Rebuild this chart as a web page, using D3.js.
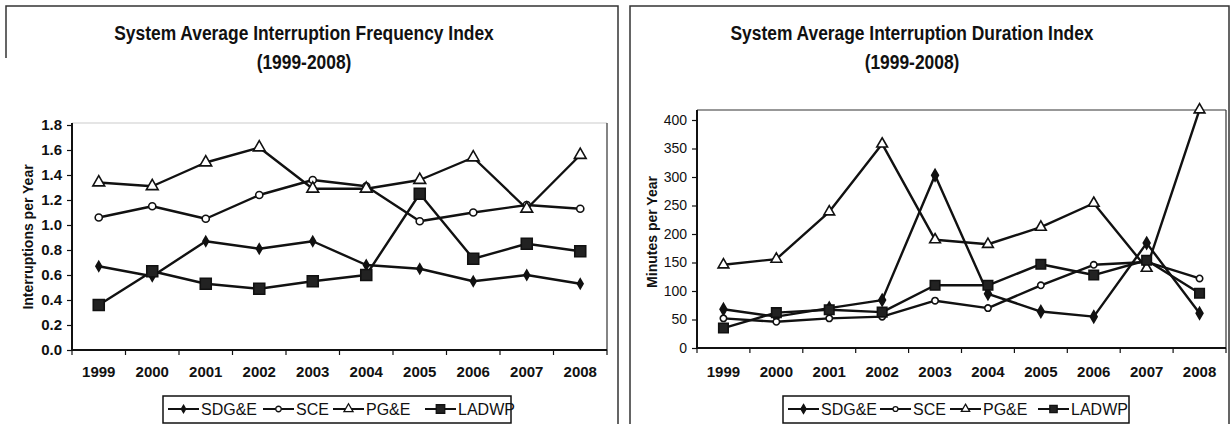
<!DOCTYPE html>
<html>
<head>
<meta charset="utf-8">
<script src="https://cdn.jsdelivr.net/npm/d3@7/dist/d3.min.js"></script>
<style>
  body { margin: 0; background: #fff; }
  svg text { font-family: "Liberation Sans", Arial, sans-serif; fill: #111; }
</style>
</head>
<body>
<svg id="chart" width="1232" height="424"></svg>
<script>
var years = ["1999", "2000", "2001", "2002", "2003", "2004", "2005", "2006", "2007", "2008"];
var seriesNames = ["SDG&E", "SCE", "PG&E", "LADWP"];

// SAIFI, interruptions per year
var saifiSDGE  = [0.67, 0.59, 0.87, 0.81, 0.87, 0.68, 0.65, 0.55, 0.60, 0.53];
var saifiSCE   = [1.06, 1.15, 1.05, 1.24, 1.36, 1.31, 1.03, 1.10, 1.16, 1.13];
var saifiPGE   = [1.34, 1.31, 1.50, 1.62, 1.29, 1.29, 1.36, 1.54, 1.13, 1.56];
var saifiLADWP = [0.36, 0.63, 0.53, 0.49, 0.55, 0.60, 1.25, 0.73, 0.85, 0.79];

// SAIDI, minutes per year
var saidiSDGE  = [68, 55, 70, 84, 303, 95, 64, 55, 184, 61];
var saidiSCE   = [52, 46, 52, 55, 83, 70, 110, 146, 151, 122];
var saidiPGE   = [146, 156, 239, 358, 190, 182, 212, 254, 140, 418];
var saidiLADWP = [35, 62, 67, 63, 110, 110, 147, 128, 154, 96];

var svg = d3.select("#chart");
var ink = "#111";

// scanned page borders
svg.append("path").attr("d", "M6,58V6H618V424").attr("fill", "none").attr("stroke", "#333").attr("stroke-width", 1.5);
svg.append("path").attr("d", "M630,424V6H1229V424").attr("fill", "none").attr("stroke", "#333").attr("stroke-width", 1.5);

function drawChart(cfg) {
  var x = d3.scaleBand().domain(years).range([cfg.left, cfg.right]);
  var y = d3.scaleLinear().domain(cfg.domain).range([cfg.bottom, cfg.top]);
  var g = svg.append("g");

  // plot area frame: top edge is faint on the scan, right edge is solid
  g.append("line")
    .attr("x1", cfg.left).attr("x2", cfg.right)
    .attr("y1", cfg.frameTop).attr("y2", cfg.frameTop)
    .attr("stroke", cfg.frameColor).attr("stroke-width", 1.2);
  g.append("line")
    .attr("x1", cfg.right).attr("x2", cfg.right)
    .attr("y1", cfg.frameTop).attr("y2", cfg.bottom)
    .attr("stroke", "#333").attr("stroke-width", 1.2);

  // titles (scan looks condensed, so squeeze horizontally)
  cfg.title.forEach(function(t, i) {
    g.append("text")
      .attr("transform", "translate(" + cfg.titleX + "," + (40 + i * 29) + ") scale(0.87,1)")
      .attr("text-anchor", "middle")
      .style("font-size", "20px").style("font-weight", "bold")
      .text(t);
  });

  // y axis
  var yAxis = d3.axisLeft(y).ticks(cfg.ticks).tickFormat(cfg.fmt)
                .tickSize(5).tickSizeOuter(0).tickPadding(5);
  var ya = g.append("g").attr("transform", "translate(" + cfg.left + ",0)").call(yAxis);
  ya.select(".domain").remove();
  ya.selectAll("line").attr("stroke", ink).attr("stroke-width", 1.2);
  ya.selectAll("text")
    .style("font-size", cfg.tickFont).style("font-weight", cfg.weight)
    .attr("fill", ink);
  g.append("line")
    .attr("x1", cfg.left).attr("x2", cfg.left)
    .attr("y1", cfg.bottom).attr("y2", cfg.frameTop)
    .attr("stroke", ink).attr("stroke-width", 2);

  g.append("text")
    .attr("transform", "translate(" + cfg.ylabelX + "," + cfg.ylabelY + ") rotate(-90)")
    .attr("text-anchor", "middle")
    .style("font-size", "14px").style("font-weight", "bold")
    .text(cfg.ylabel);

  // x axis, labels centred in the bands, ticks on the band edges
  var xAxis = d3.axisBottom(x).tickSize(0).tickPadding(cfg.xPad);
  var xa = g.append("g").attr("transform", "translate(0," + cfg.bottom + ")").call(xAxis);
  xa.select(".domain").remove();
  xa.selectAll("text")
    .style("font-size", "15px").style("font-weight", "bold")
    .attr("fill", ink);
  g.append("line")
    .attr("x1", cfg.left).attr("x2", cfg.right)
    .attr("y1", cfg.bottom).attr("y2", cfg.bottom)
    .attr("stroke", ink).attr("stroke-width", 2);
  g.selectAll(".xtick")
    .data(d3.range(years.length + 1))
    .enter().append("line")
    .attr("class", "xtick")
    .attr("x1", function(i) { return cfg.left + i * x.step(); })
    .attr("x2", function(i) { return cfg.left + i * x.step(); })
    .attr("y1", cfg.bottom).attr("y2", cfg.bottom + 5)
    .attr("stroke", ink).attr("stroke-width", 1.2);

  // lines + markers
  var line = d3.line()
    .x(function(d) { return x(d.year) + x.bandwidth() / 2; })
    .y(function(d) { return y(d.value); });

  cfg.series.forEach(function(s) {
    var pts = years.map(function(yr, i) { return { year: yr, value: s.values[i] }; });
    g.append("path")
      .datum(pts)
      .attr("d", line)
      .attr("fill", "none").attr("stroke", ink).attr("stroke-width", 2.4)
      .attr("stroke-linejoin", "round");
    g.selectAll(null)
      .data(pts)
      .enter().append("path")
      .attr("transform", function(d) {
        return "translate(" + (x(d.year) + x.bandwidth() / 2) + "," + y(d.value) + ")";
      })
      .attr("d", d3.symbol().type(s.type).size(s.size))
      .attr("fill", s.fill).attr("stroke", ink).attr("stroke-width", 1.6);
  });

  // legend
  var lg = g.append("g");
  lg.append("rect")
    .attr("x", cfg.legendX).attr("y", 396)
    .attr("width", cfg.legendW).attr("height", 27)
    .attr("fill", "#fff").attr("stroke", ink).attr("stroke-width", 1.5);
  cfg.series.forEach(function(s, i) {
    var cx = cfg.legendX + cfg.legendOffsets[i];
    lg.append("line")
      .attr("x1", cx).attr("x2", cx + 31)
      .attr("y1", 409).attr("y2", 409)
      .attr("stroke", ink).attr("stroke-width", 2);
    lg.append("path")
      .attr("transform", "translate(" + (cx + 15.5) + ",409)")
      .attr("d", d3.symbol().type(s.type).size(s.size * 0.6))
      .attr("fill", s.fill).attr("stroke", ink).attr("stroke-width", 1.3);
    lg.append("text")
      .attr("x", cx + 33).attr("y", 415)
      .style("font-size", "16px")
      .text(s.name);
  });
}

function makeSeries(vals, sizes) {
  var types = [d3.symbolDiamond, d3.symbolCircle, d3.symbolTriangle, d3.symbolSquare];
  var fills = [ink, "#fff", "#fff", "#222"];
  return seriesNames.map(function(n, i) {
    return { name: n, values: vals[i], type: types[i], fill: fills[i], size: sizes[i] };
  });
}

drawChart({
  title: ["System Average Interruption Frequency Index", "(1999-2008)"],
  titleX: 304,
  left: 72, right: 607, top: 125, bottom: 350, frameTop: 123,
  frameColor: "#ccc",
  domain: [0, 1.8], ticks: 9, fmt: d3.format(".1f"),
  tickFont: "15px", weight: "bold", xPad: 16,
  ylabel: "Interruptions per Year", ylabelX: 33, ylabelY: 237,
  legendX: 163, legendW: 348, legendOffsets: [5, 100, 170, 262],
  series: makeSeries([saifiSDGE, saifiSCE, saifiPGE, saifiLADWP], [28, 40, 60, 120])
});

drawChart({
  title: ["System Average Interruption Duration Index", "(1999-2008)"],
  titleX: 912,
  left: 697, right: 1226, top: 120, bottom: 348, frameTop: 110,
  frameColor: "#333",
  domain: [0, 400], ticks: 8, fmt: d3.format("d"),
  tickFont: "14px", weight: "normal", xPad: 18,
  ylabel: "Minutes per Year", ylabelX: 657, ylabelY: 232,
  legendX: 783, legendW: 346, legendOffsets: [5, 97, 167, 255],
  series: makeSeries([saidiSDGE, saidiSCE, saidiPGE, saidiLADWP], [40, 32, 50, 90])
});
</script>
</body>
</html>
